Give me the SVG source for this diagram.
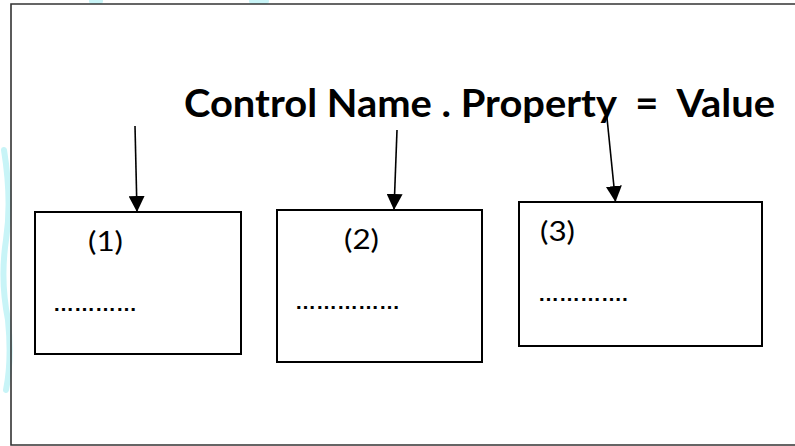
<svg xmlns="http://www.w3.org/2000/svg" width="795" height="446" viewBox="0 0 795 446">
<defs>
<style>
.box{fill:#fff;stroke:#000;stroke-width:2}
.conn{stroke:#000;stroke-width:1.6;fill:none}
.title{font-family:Lato,"Liberation Sans",sans-serif;font-weight:bold;font-size:39px;fill:#000;white-space:pre}
.lbl{font-family:Lato,"Liberation Sans",sans-serif;font-size:26px;fill:#000}
.dots{font-family:"Liberation Sans",sans-serif;font-weight:bold;font-size:21px;fill:#000}
.wm{fill:none;stroke:#c8f4f7;stroke-width:6;stroke-linecap:round}
</style>
<marker id="ah" markerUnits="userSpaceOnUse" markerWidth="16" markerHeight="16" viewBox="0 0 16 16" refX="16" refY="8" orient="auto">
<path d="M0,0 L16,8 L0,16 Z" fill="#000"/>
</marker>
</defs>
<rect width="795" height="446" fill="#fff"/>
<g id="watermark">
<path class="wm" d="M4,150 Q12,200 6,240 Q0,280 8,320 Q12,360 6,390"/>
<path class="wm" d="M92,1 L100,1" stroke-width="4"/>
<path class="wm" d="M252,1 L266,1" stroke-width="4"/>
</g>
<path id="frame" d="M796,4 H11 V445 H796" fill="none" stroke="#333" stroke-width="1.6"/>
<g id="title"><text class="title" x="184" y="117" textLength="591" lengthAdjust="spacingAndGlyphs" xml:space="preserve">Control Name . Property  =  Value</text></g>
<g id="node1">
<rect class="box" x="35" y="212" width="206" height="142"/>
<text class="lbl" x="88" y="251" textLength="35" lengthAdjust="spacingAndGlyphs">(1)</text>
<text class="dots" x="53" y="311">…………</text>
</g>
<g id="node2">
<rect class="box" x="277" y="210" width="205" height="152"/>
<text class="lbl" x="344" y="249" textLength="35" lengthAdjust="spacingAndGlyphs">(2)</text>
<text class="dots" x="295" y="309">……………</text>
</g>
<g id="node3">
<rect class="box" x="519" y="202" width="243" height="144"/>
<text class="lbl" x="540" y="241" textLength="35" lengthAdjust="spacingAndGlyphs">(3)</text>
<text class="dots" x="538" y="301">………….</text>
</g>
<g id="connectors">
<line class="conn" x1="135" y1="126" x2="137" y2="212" marker-end="url(#ah)"/>
<line class="conn" x1="397" y1="130" x2="394" y2="210" marker-end="url(#ah)"/>
<line class="conn" x1="606.5" y1="113" x2="615.5" y2="202" marker-end="url(#ah)"/>
</g>
</svg>
